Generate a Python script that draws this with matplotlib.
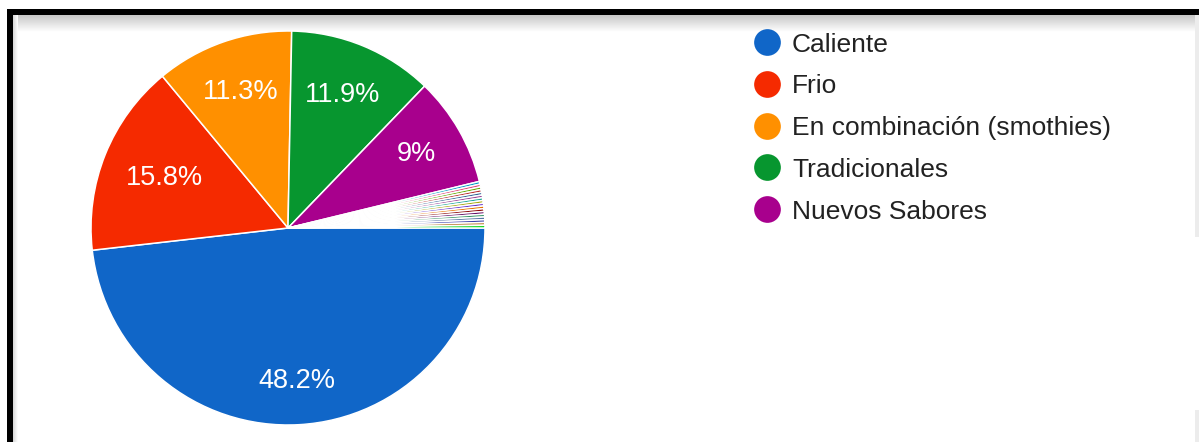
import numpy as np
import matplotlib
matplotlib.use("Agg")
import matplotlib.pyplot as plt

plt.rcParams['font.family'] = ['Liberation Sans', 'DejaVu Sans']

# main answers, clockwise from 3 o'clock
categories = ["Caliente", "Frio", "En combinación (smothies)", "Tradicionales", "Nuevos Sabores"]
shares = [48.2, 15.8, 11.3, 11.9, 9.0]
colors = ["#1066c8", "#f52a00", "#ff9000", "#07962f", "#a8008d"]

# write-in answers with one response each
n_other = 17
other_share = (100 - sum(shares)) / n_other
other_colors = ["#0099c6", "#dd4477", "#66aa00", "#b82e2e", "#316395", "#994499",
                "#22aa99", "#aaaa11", "#6633cc", "#e67300", "#8b0707", "#651067",
                "#329262", "#5574a6", "#3b3eac", "#b77322", "#16d620"]

values = shares + [other_share] * n_other
all_colors = colors + other_colors[:n_other]

W, H = 1199, 442
fig = plt.figure(figsize=(W / 100, H / 100), dpi=100)

# background layer in pixel coordinates
bg = fig.add_axes([0, 0, 1, 1])
bg.set_xlim(0, W)
bg.set_ylim(H, 0)
bg.axis("off")

# soft shadow under the top frame line
grad = np.linspace(0.78, 1.0, 64).reshape(-1, 1)
bg.imshow(grad, cmap="gray", vmin=0, vmax=1, extent=(13, W, 32, 15),
          aspect="auto", interpolation="bilinear", zorder=1)
grad_l = np.linspace(0.84, 1.0, 16).reshape(1, -1)
bg.imshow(grad_l, cmap="gray", vmin=0, vmax=1, extent=(13, 18, H, 15),
          aspect="auto", interpolation="bilinear", zorder=1)
bg.fill_between([1195, W], 15, 237, color="#ececec", lw=0, zorder=1)
bg.fill_between([1195, W], 410, H, color="#ececec", lw=0, zorder=1)

# black frame: top and left
bg.fill_between([7, W], 9, 15, color="black", lw=0, zorder=2)
bg.fill_between([7, 13], 9, H, color="black", lw=0, zorder=2)

# legend
leg_x, leg_y0, leg_dy = 767, 42, 41.8
for i, (name, c) in enumerate(zip(categories, colors)):
    y = leg_y0 + i * leg_dy
    bg.scatter([leg_x], [y], s=370, color=c, lw=0, zorder=3)
    bg.text(leg_x + 25, y, name, fontsize=19, color="#222222",
            va="center_baseline", ha="left", zorder=3)

# pie: centre (288, 228), radius 197 px
cx, cy, r = 288, 228, 197
half = 200
ax = fig.add_axes([(cx - half) / W, (H - cy - half) / H, 2 * half / W, 2 * half / H])


def pct_label(p):
    if p < 1:
        return ""
    return f"{round(p, 1):g}%"


wedges, texts, autotexts = ax.pie(
    values, colors=all_colors, startangle=0, counterclock=False,
    autopct=pct_label, pctdistance=0.75,
    wedgeprops=dict(edgecolor="white", linewidth=1.1),
    textprops=dict(color="white", fontsize=19.5),
)

# pull each percentage label in or out along its wedge's mid-angle
label_radius = [0.78, 0.675, 0.73, 0.73, 0.75]
for w, t, rad in zip(wedges, autotexts, label_radius):
    mid = np.deg2rad((w.theta1 + w.theta2) / 2)
    t.set_position((rad * np.cos(mid), rad * np.sin(mid)))

ax.set_xlim(-half / r, half / r)
ax.set_ylim(-half / r, half / r)
ax.set_aspect("equal")
ax.axis("off")

fig.savefig("out.png", dpi=100)
